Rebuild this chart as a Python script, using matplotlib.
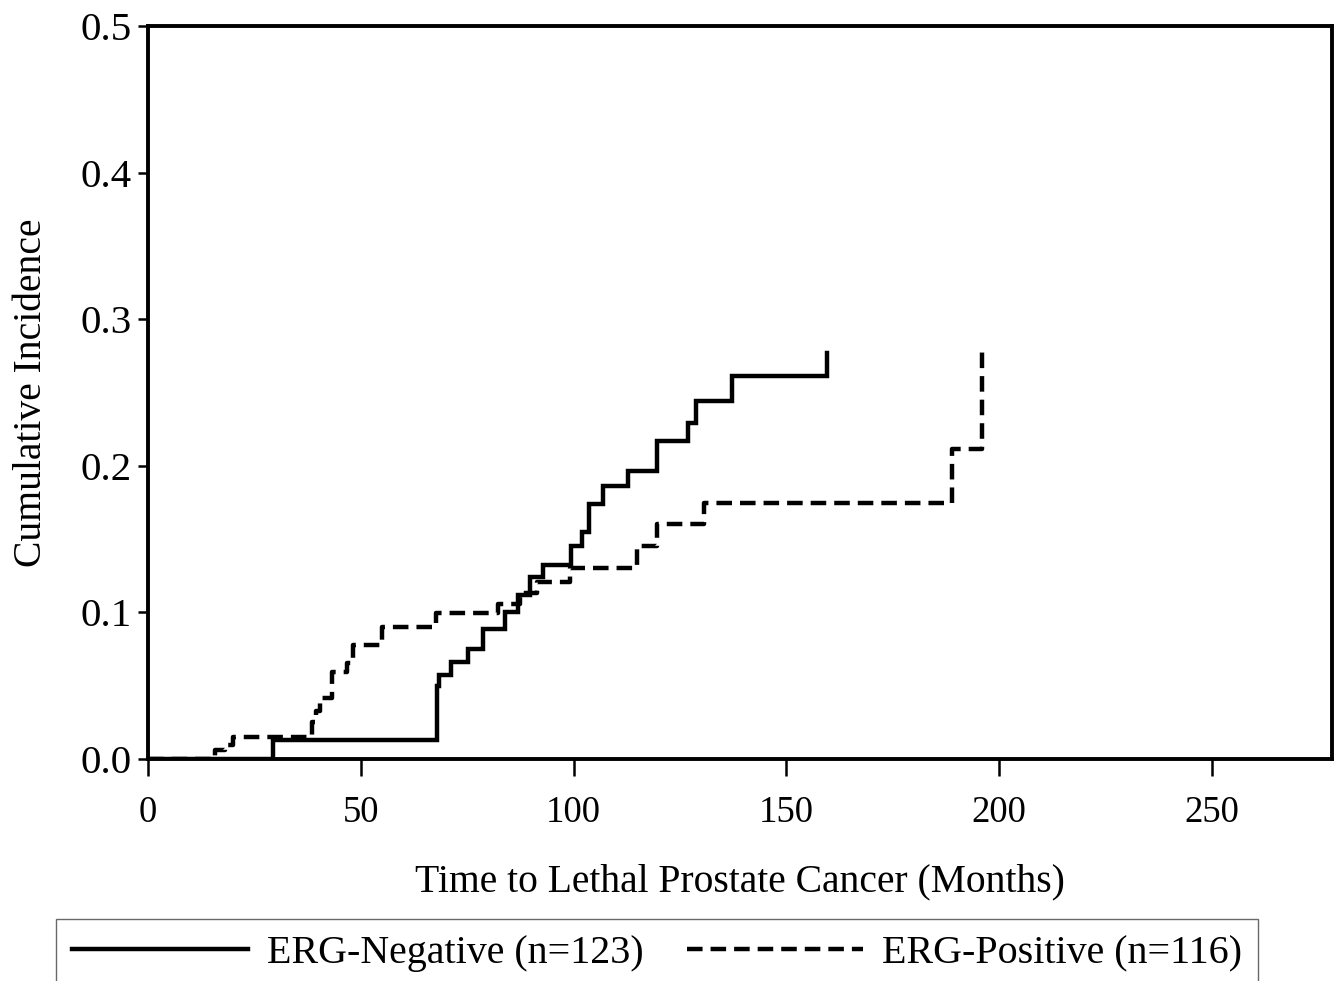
import matplotlib
matplotlib.use("Agg")
import matplotlib.pyplot as plt

plt.rcParams['font.family'] = ['Liberation Serif', 'DejaVu Serif']

# ERG-Negative cumulative incidence (step, post)
neg_time = [0, 29.3, 68.0, 68.4, 71.3, 75.3, 78.8, 83.9, 87.0, 89.8, 92.7,
            99.5, 101.9, 103.7, 107.0, 112.9, 119.7, 126.8, 128.8, 137.3, 159.5]
neg_ci = [0.0, 0.013, 0.050, 0.057, 0.066, 0.075, 0.089, 0.100, 0.112, 0.124, 0.132,
          0.145, 0.155, 0.174, 0.186, 0.1965, 0.217, 0.229, 0.244, 0.261, 0.277]

# ERG-Positive cumulative incidence (step, post)
pos_time = [0, 15.7, 18.0, 20.0, 37.3, 38.5, 39.5, 40.4, 43.2, 46.7, 48.2, 54.9,
            67.7, 82.3, 87.4, 91.3, 99.2, 115.0, 119.7, 130.6, 188.8, 195.9]
pos_ci = [0.0, 0.006, 0.0095, 0.0148, 0.0157, 0.025, 0.033, 0.0414, 0.0596, 0.0653, 0.078, 0.090,
          0.0994, 0.1055, 0.113, 0.1205, 0.1305, 0.145, 0.160, 0.1744, 0.2113, 0.2817]

labels = ["ERG-Negative (n=123)", "ERG-Positive (n=116)"]
x_ticks = [0, 50, 100, 150, 200, 250]
y_ticks = [0.0, 0.1, 0.2, 0.3, 0.4, 0.5]

W, H = 1339, 981
fig = plt.figure(figsize=(W / 100, H / 100), dpi=100)
ax = fig.add_axes([148 / W, 1 - 759 / H, (1332 - 148) / W, (759 - 26) / H])

ax.step(neg_time, neg_ci, where='post', color='black', lw=3.2, solid_joinstyle='miter',
        label=labels[0])
ax.step(pos_time, pos_ci, where='post', color='black', lw=3.2,
        linestyle=(0, (3.5, 1.8)), label=labels[1])

ax.set_xlim(0, 278.2)
ax.set_ylim(0, 0.5)
ax.set_xticks(x_ticks)
ax.set_xticklabels([str(v) for v in x_ticks])
ax.set_yticks(y_ticks)
ax.set_yticklabels([f"{v:.1f}" for v in y_ticks])

for s in ax.spines.values():
    s.set_linewidth(2.8)
ax.tick_params(axis='x', direction='out', length=12, width=1.8, pad=14, labelsize=26.5)
ax.tick_params(axis='y', direction='out', length=7, width=1.8, pad=5, labelsize=29.5)

ax.set_xlabel("Time to Lethal Prostate Cancer (Months)", fontsize=28.5, labelpad=24)
ax.set_ylabel("Cumulative Incidence", fontsize=28.5, labelpad=22)

leg = fig.legend(loc='upper center', bbox_to_anchor=(657 / W, 1 - 919 / H),
                 ncol=2, fontsize=28.8, handlelength=4.4, handletextpad=0.48,
                 columnspacing=1.07, frameon=True, fancybox=False,
                 borderpad=0.4, borderaxespad=0)
leg.get_frame().set_edgecolor('#444444')
leg.get_frame().set_linewidth(1.0)

fig.savefig("out.png", dpi=100)
